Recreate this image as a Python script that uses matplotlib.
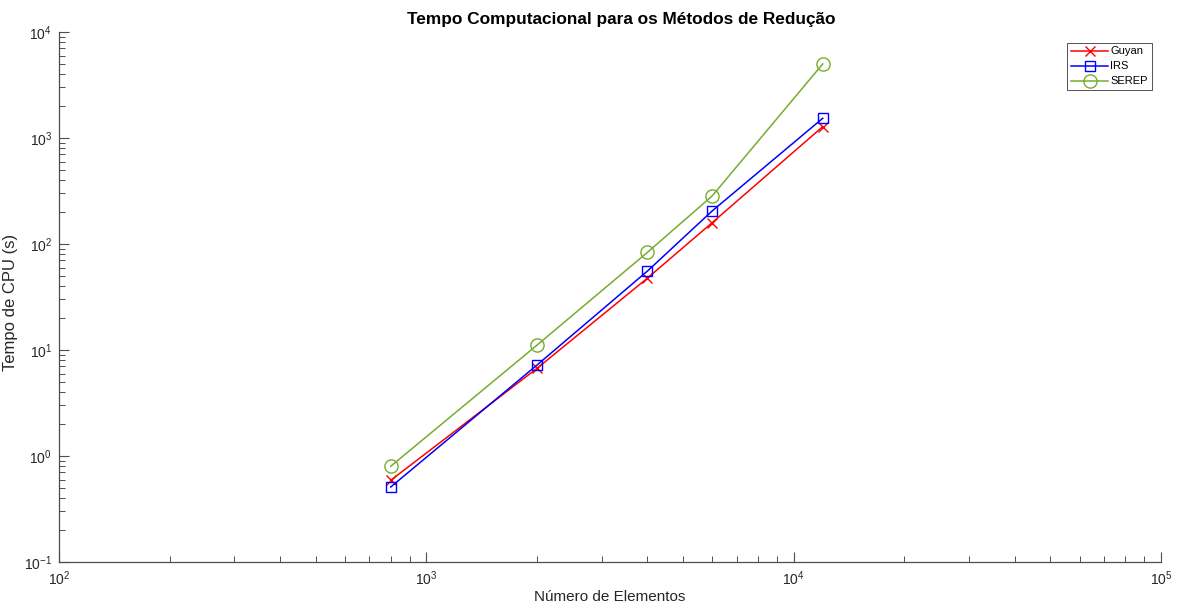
import matplotlib
matplotlib.use("Agg")
import matplotlib.pyplot as plt
from matplotlib.ticker import LogLocator, NullFormatter

# dados de tempo de CPU (s) por número de elementos
elementos = [800, 2000, 4000, 6000, 12000]
tempo_guyan = [0.59, 6.7, 47.7, 159, 1280]
tempo_irs = [0.51, 7.2, 55.6, 205, 1535]
tempo_serep = [0.80, 11.1, 83.5, 284, 5000]

plt.rcParams['font.family'] = ['Liberation Sans', 'DejaVu Sans']
plt.rcParams['mathtext.fontset'] = 'custom'
plt.rcParams['mathtext.rm'] = 'Liberation Sans'
plt.rcParams['mathtext.it'] = 'Liberation Sans'
plt.rcParams['mathtext.default'] = 'regular'
plt.rcParams['axes.unicode_minus'] = False

eixo_cor = '#4d4d4d'
texto_cor = '#262626'

fig = plt.figure(figsize=(11.77, 6.05), dpi=100)
ax = fig.add_axes([59 / 1177, 43 / 605, 1102 / 1177, 530 / 605])

ax.plot(elementos, tempo_guyan, color='#ff0000', marker='x', markersize=7,
        markeredgewidth=1.0, linewidth=1.1, label='Guyan')
ax.plot(elementos, tempo_irs, color='#0000ff', marker='s', markersize=7,
        markerfacecolor='none', markeredgewidth=1.0, linewidth=1.1, label='IRS')
ax.plot(elementos, tempo_serep, color='#77ac30', marker='o', markersize=9.5,
        markerfacecolor='none', markeredgewidth=1.0, linewidth=1.1, label='SEREP')

ax.set_xscale('log')
ax.set_yscale('log')
ax.set_xlim(1e2, 1e5)
ax.set_ylim(1e-1, 1e4)

ax.xaxis.set_major_locator(LogLocator(base=10, numticks=10))
ax.yaxis.set_major_locator(LogLocator(base=10, numticks=10))
ax.xaxis.set_minor_locator(LogLocator(base=10, subs=range(2, 10), numticks=20))
ax.yaxis.set_minor_locator(LogLocator(base=10, subs=range(2, 10), numticks=20))
ax.xaxis.set_minor_formatter(NullFormatter())
ax.yaxis.set_minor_formatter(NullFormatter())

for lado in ['top', 'right']:
    ax.spines[lado].set_visible(False)
for lado in ['left', 'bottom']:
    ax.spines[lado].set_color(eixo_cor)
    ax.spines[lado].set_linewidth(0.9)

ax.tick_params(which='both', direction='in')
ax.tick_params(which='major', length=7.5, width=0.8, color=eixo_cor,
               labelcolor=texto_cor, labelsize=10, pad=5)
ax.tick_params(which='minor', length=4, width=0.7, color=eixo_cor)

ax.set_title('Tempo Computacional para os Métodos de Redução', x=0.51,
             fontsize=12.4, fontweight='bold', color='black', pad=6)
ax.set_xlabel('Número de Elementos', fontsize=11, color=texto_cor)
ax.set_ylabel('Tempo de CPU (s)', fontsize=12, color=texto_cor)
ax.xaxis.set_label_coords(0.5, -0.052)
ax.yaxis.set_label_coords(-0.0375, 0.49)

leg = ax.legend(loc='upper right', bbox_to_anchor=(0.9915, 0.98), fontsize=8,
                frameon=True, fancybox=False, handlelength=3.3,
                borderpad=0.35, labelspacing=0.45, handletextpad=0.2,
                borderaxespad=0)
leg.get_frame().set_edgecolor('#262626')
leg.get_frame().set_linewidth(0.7)

fig.savefig('out.png', dpi=100)
